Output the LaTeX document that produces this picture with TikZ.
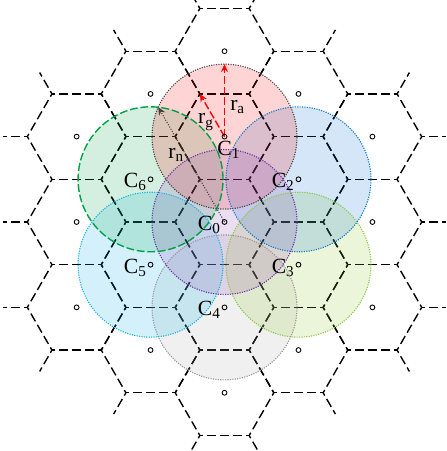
\documentclass[tikz,border=0pt]{standalone}
\usepackage{fontspec}
\setmainfont{Liberation Serif}
\usetikzlibrary{arrows.meta,calc}
\definecolor{covRed}{RGB}{255,0,0}
\definecolor{covBlue}{RGB}{0,110,210}
\definecolor{covLime}{RGB}{140,200,40}
\definecolor{covGrey}{RGB}{170,170,170}
\definecolor{covCyan}{RGB}{0,175,235}
\definecolor{covGreen}{RGB}{0,165,70}
\definecolor{covPurple}{RGB}{140,60,170}
\definecolor{rimRed}{RGB}{70,70,70}
\definecolor{rimBlue}{RGB}{20,120,200}
\definecolor{rimLime}{RGB}{140,200,70}
\definecolor{rimGrey}{RGB}{150,150,150}
\definecolor{rimCyan}{RGB}{20,180,230}
\definecolor{rimGreen}{RGB}{0,160,70}
\definecolor{rimPurple}{RGB}{110,50,170}
\tikzset{
  >={Stealth[length=4.5pt,width=4pt]},
  hexedge/.style={draw=black, line width=0.8pt, dash pattern=on 5.2pt off 2.3pt, dash phase=3.37pt},
  ctr/.style={circle, draw=black, line width=0.5pt, inner sep=0pt, minimum size=2.8pt},
  lbl/.style={font=\fontsize{12.5}{14}\selectfont, inner sep=0pt},
  cover/.style={fill opacity=0.17},
  rim/.style={line width=0.65pt, dash pattern=on 0.65pt off 0.75pt},
  radarrow/.style={->, draw=red, line width=0.8pt, dash pattern=on 4.5pt off 1.6pt},
  reach/.style={->, draw=black!75, line width=0.6pt, dash pattern=on 0.6pt off 0.9pt},
}

\begin{document}
\begin{tikzpicture}
  \clip (-4.554,-4.645) rectangle (4.493,4.503);
  \fill[white] (-4.554,-4.645) rectangle (4.493,4.503);

  % honeycomb, two rings round the centre cell
  \foreach \q in {-2,...,2}
    \foreach \r in {-2,...,2}{
      \pgfmathtruncatemacro\s{abs(\q+\r)}
      \ifnum\s<3
        \begin{scope}[shift={({1.5*\q},{0.8660254*(2*\r+\q)})}]
          \foreach \k in {0,...,5}
            \draw[hexedge] (60*\k:1) -- (60*\k+60:1);
        \end{scope}
      \fi
    }
  % half edges on the outer rim
  \foreach \k in {0,...,5}{
    \begin{scope}[shift={(90+60*\k:3.4641)}]
      \draw[hexedge] (60+60*\k:1) -- (60+60*\k:1.5);
      \draw[hexedge] (120+60*\k:1) -- (120+60*\k:1.5);
    \end{scope}
    \begin{scope}[shift={(60*\k:3)}]
      \draw[hexedge] (60*\k:1) -- (60*\k:1.5);
    \end{scope}
  }

  % cell centres
  \coordinate (p0) at (0,0);
  \foreach \i/\a in {1/90,2/30,3/-30,4/-90,5/-150,6/150}
    \coordinate (p\i) at (\a:1.7321);

  % coverage discs
  \foreach \i/\c in {4/covGrey,3/covLime,5/covCyan,2/covBlue,6/covGreen,1/covRed,0/covPurple}
    \fill[cover, \c] (p\i) circle (1.47);
  \foreach \i/\c in {4/rimGrey,3/rimLime,5/rimCyan,2/rimBlue,1/rimRed,0/rimPurple}
    \draw[rim, \c] (p\i) circle (1.47);
  \draw[rimGreen, line width=0.8pt, dash pattern=on 4.5pt off 1.6pt] (p6) circle (1.47);

  % second ring of cells
  \foreach \i/\a/\d in {1/90/3.4641,2/30/3.4641,3/-30/3.4641,4/-90/3.4641,5/-150/3.4641,6/150/3.4641,
                        7/60/3,8/0/3,9/-60/3,10/-120/3,11/180/3,12/120/3}
    \node[ctr] (o\i) at (\a:\d) {};

  % radii
  \coordinate (ta) at ($(p1)+(0,1.47)$);
  \coordinate (tg) at ($(p1)+(120:1)$);
  \coordinate (tn) at (120:2.688);
  \draw[radarrow] (p1) -- (ta);
  \draw[radarrow] (p1) -- (tg);
  \draw[reach] (p0) -- (tn);
  \node[lbl, anchor=base west] (ra) at (0.11,2.27) {r\textsubscript{a}};
  \node[lbl, anchor=base west] (rg) at (-0.54,1.99) {r\textsubscript{g}};
  \node[lbl, anchor=base west] (rn) at (-1.146,1.298) {r\textsubscript{n}};

  % centre marks and names
  \foreach \i in {0,...,6}
    \node[ctr] (c\i) at (p\i) {};
  \node[lbl, anchor=base west] (l1) at ($(p1)+(-0.15,-0.39)$) {C\textsubscript{1}};
  \foreach \i in {0,2,3,4,5,6}
    \node[lbl, anchor=base east] (l\i) at ($(p\i)+(-0.07,-0.17)$) {C\textsubscript{\i}};
\end{tikzpicture}
\end{document}
